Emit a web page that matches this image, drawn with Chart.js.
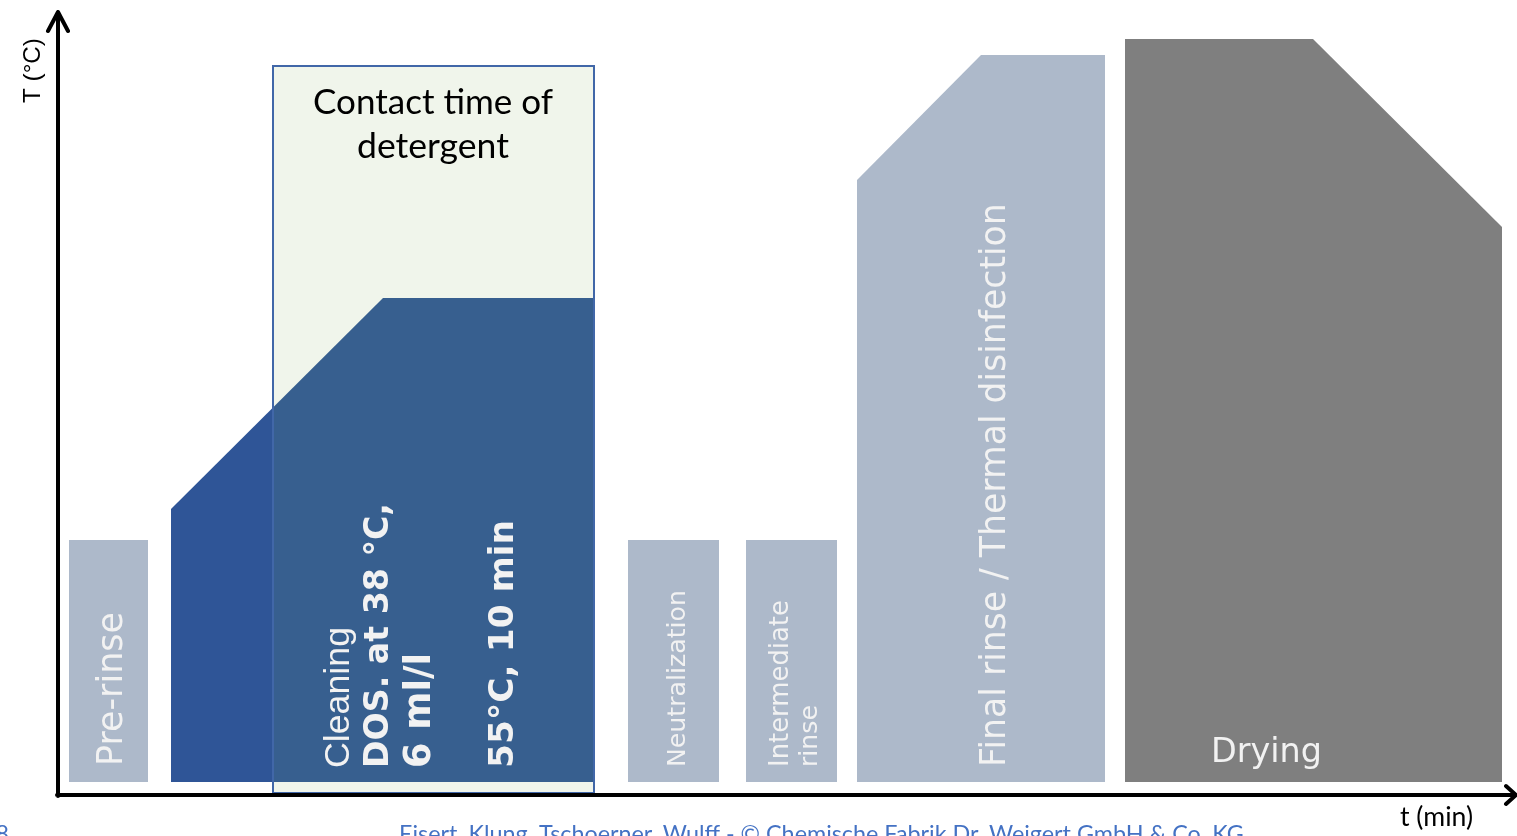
<!DOCTYPE html>
<html>
<head>
<meta charset="utf-8">
<script src="https://cdn.jsdelivr.net/npm/chart.js@4"></script>
<style>
    html, body { margin: 0; padding: 0; background: #fff; }
    #wrap { width: 1517px; height: 836px; }
</style>
</head>
<body>
<div id="wrap"><canvas id="myChart" width="1517" height="836"></canvas></div>
<script>
// units: x = time (arbitrary), y = temperature (arbitrary)
const baseLine = 1.3;
const boxBase = 0.2;

const preRinse = [{x: 1.1, y: 25.5}, {x: 9.0, y: 25.5}];
const cleaningOut = [{x: 11.3, y: 28.6}, {x: 21.5, y: 38.75}];
const cleaningIn = [{x: 21.5, y: 38.75}, {x: 32.5, y: 49.7}, {x: 53.6, y: 49.7}];
const contactBox = [{x: 21.5, y: boxBase}, {x: 21.5, y: 72.9}, {x: 53.6, y: 72.9}, {x: 53.6, y: boxBase}, {x: 21.5, y: boxBase}];
const contactTop = [{x: 21.5, y: 72.9}, {x: 53.6, y: 72.9}];
const neutralization = [{x: 57.0, y: 25.5}, {x: 66.1, y: 25.5}];
const interRinse = [{x: 68.8, y: 25.5}, {x: 77.9, y: 25.5}];
const finalRinse = [{x: 79.9, y: 61.5}, {x: 92.3, y: 74.0}, {x: 104.7, y: 74.0}];
const drying = [{x: 106.7, y: 75.6}, {x: 125.5, y: 75.6}, {x: 144.4, y: 56.8}];

const lightBlue = '#ADB9CA';

function area(data, color, fillTo, order) {
    return {
        data: data,
        borderWidth: 0,
        borderColor: 'rgba(0,0,0,0)',
        backgroundColor: color,
        fill: {value: fillTo},
        pointRadius: 0,
        tension: 0,
        order: order
    };
}

// text labels: [text, font, baseline pos (px), start pos (px), length (px), rotated]
const labels = [
    {text: 'Pre-rinse', font: 'DejaVu Sans', weight: 'normal', x: 122, y: 766, len: 154, rot: true},
    {text: 'Cleaning', font: 'Liberation Sans', weight: 'normal', x: 349, y: 768, len: 141, rot: true},
    {text: 'DOS. at 38 °C,', font: 'DejaVu Sans', weight: 'bold', x: 388, y: 768, len: 265, rot: true},
    {text: '6 ml/l', font: 'DejaVu Sans', weight: 'bold', x: 430, y: 768, len: 115, rot: true},
    {text: '55°C, 10 min', font: 'DejaVu Sans', weight: 'bold', x: 513, y: 768, len: 248, rot: true},
    {text: 'Neutralization', font: 'DejaVu Sans', weight: 'normal', x: 685, y: 767, len: 177, rot: true},
    {text: 'Intermediate', font: 'DejaVu Sans', weight: 'normal', x: 788, y: 767, len: 167, rot: true},
    {text: 'rinse', font: 'DejaVu Sans', weight: 'normal', x: 817, y: 767, len: 62, rot: true},
    {text: 'Final rinse / Thermal disinfection', font: 'DejaVu Sans', weight: 'normal', x: 1005, y: 767, len: 564, rot: true},
    {text: 'Drying', font: 'DejaVu Sans', weight: 'normal', x: 1211, y: 762, len: 111, rot: false}
];

function fitFont(ctx, text, family, weight, len) {
    ctx.font = weight + ' 40px "' + family + '"';
    const w = ctx.measureText(text).width;
    const size = 40 * len / w;
    ctx.font = weight + ' ' + size.toFixed(2) + 'px "' + family + '"';
}

const decor = {
    id: 'decor',
    afterDatasetsDraw(chart) {
        const ctx = chart.ctx;
        ctx.save();
        ctx.textAlign = 'left';
        ctx.textBaseline = 'alphabetic';

        labels.forEach((l) => {
            ctx.fillStyle = '#F2F2F2';
            fitFont(ctx, l.text, l.font, l.weight, l.len);
            ctx.save();
            ctx.translate(l.x, l.y);
            if (l.rot) ctx.rotate(-Math.PI / 2);
            ctx.fillText(l.text, 0, 0);
            ctx.restore();
        });

        // contact time title
        ctx.fillStyle = '#000';
        ctx.textAlign = 'center';
        fitFont(ctx, 'Contact time of', 'Lato', 'normal', 240);
        ctx.fillText('Contact time of', 433, 114);
        fitFont(ctx, 'detergent', 'Lato', 'normal', 152);
        ctx.fillText('detergent', 433, 158);

        // axes
        const a = chart.chartArea;
        ctx.strokeStyle = '#000';
        ctx.lineWidth = 4;
        ctx.lineCap = 'round';
        ctx.lineJoin = 'round';
        ctx.beginPath();
        ctx.moveTo(a.left, a.bottom + 1);
        ctx.lineTo(a.left, a.top);
        ctx.moveTo(a.left - 10, a.top + 19);
        ctx.lineTo(a.left, a.top);
        ctx.lineTo(a.left + 10, a.top + 19);
        ctx.moveTo(a.left - 1, a.bottom);
        ctx.lineTo(a.right, a.bottom);
        ctx.moveTo(a.right - 9, a.bottom - 9);
        ctx.lineTo(a.right + 1, a.bottom);
        ctx.lineTo(a.right - 9, a.bottom + 9);
        ctx.stroke();

        // axis titles
        ctx.fillStyle = '#000';
        ctx.textAlign = 'left';
        fitFont(ctx, 'T (°C)', 'Liberation Sans', 'normal', 65);
        ctx.save();
        ctx.translate(40, 103);
        ctx.rotate(-Math.PI / 2);
        ctx.fillText('T (°C)', 0, 0);
        ctx.restore();
        fitFont(ctx, 't (min)', 'Lato', 'normal', 73);
        ctx.fillText('t (min)', 1400, 826);

        // footer
        ctx.fillStyle = '#4472C4';
        fitFont(ctx, 'Eisert, Klung, Tschoerner, Wulff - © Chemische Fabrik Dr. Weigert GmbH & Co. KG', 'Lato', 'normal', 845);
        ctx.fillText('Eisert, Klung, Tschoerner, Wulff - © Chemische Fabrik Dr. Weigert GmbH & Co. KG', 399, 842);
        ctx.textAlign = 'right';
        ctx.fillText('8', 9, 842);
        ctx.restore();
    }
};

new Chart(document.getElementById('myChart').getContext('2d'), {
    type: 'line',
    data: {
        datasets: [
            {
                data: contactBox,
                borderWidth: 2,
                borderColor: '#4167A8',
                backgroundColor: 'rgba(0,0,0,0)',
                fill: false,
                pointRadius: 0,
                tension: 0,
                order: 1
            },
            area(preRinse, lightBlue, baseLine, 3),
            area(neutralization, lightBlue, baseLine, 3),
            area(interRinse, lightBlue, baseLine, 3),
            area(finalRinse, lightBlue, baseLine, 3),
            area(drying, '#7F7F7F', baseLine, 3),
            area(cleaningIn, '#375F8F', baseLine, 4),
            area(cleaningOut, '#2F5597', baseLine, 5),
            area(contactTop, '#F0F5EB', boxBase, 10)
        ]
    },
    options: {
        responsive: false,
        animation: false,
        layout: {padding: {left: 58, top: 12, right: 2, bottom: 41}},
        scales: {
            x: {type: 'linear', min: 0, max: 145.7, display: false},
            y: {type: 'linear', min: 0, max: 78.3, display: false}
        },
        plugins: {
            legend: {display: false},
            tooltip: {enabled: false}
        }
    },
    plugins: [decor]
});
</script>
</body>
</html>
